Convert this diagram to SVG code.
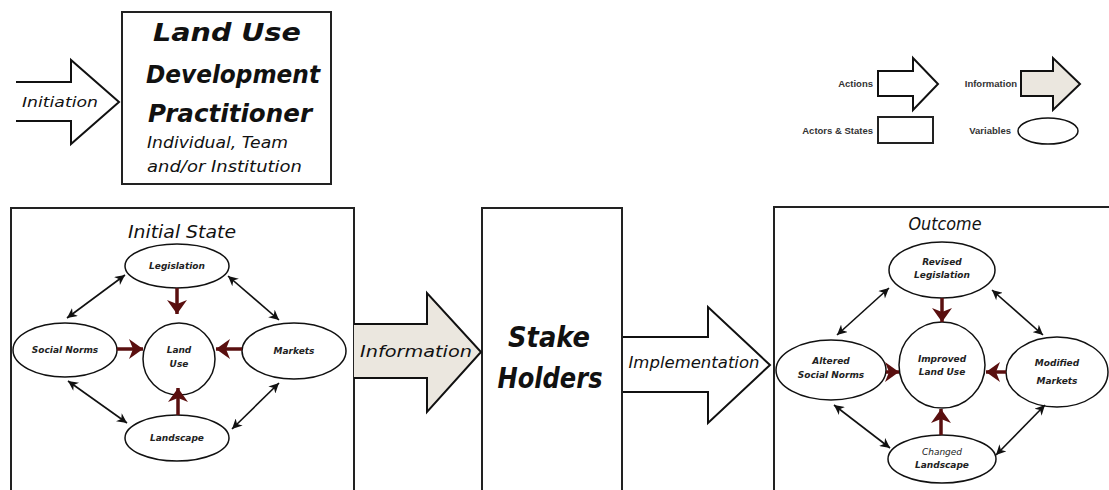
<svg xmlns="http://www.w3.org/2000/svg" width="1109" height="490" viewBox="0 0 1109 490">
<style>
.box{fill:#fff;stroke:#222;stroke-width:2}
.arw{fill:#fff;stroke:#111;stroke-width:2;stroke-linejoin:miter}
.inf{fill:#ebe7df;stroke:#111;stroke-width:2}
.var{fill:#fff;stroke:#111;stroke-width:1.5}
.big{font-family:"DejaVu Sans",sans-serif;font-weight:bold;font-style:italic;fill:#111;text-anchor:middle}
.mid{font-family:"DejaVu Sans",sans-serif;font-style:italic;fill:#111;text-anchor:middle}
.sm{font-family:"DejaVu Sans",sans-serif;font-style:italic;font-weight:bold;font-size:9px;fill:#222;text-anchor:middle}
.leg{font-family:"Liberation Sans",Arial,sans-serif;font-weight:bold;font-size:9.5px;fill:#333}
.red{stroke:#5a0f0f;stroke-width:3.5;fill:none;marker-end:url(#rh)}
.dbl{stroke:#111;stroke-width:1.6;fill:none;marker-end:url(#bh);marker-start:url(#bhs)}
</style>
<defs>
<marker id="rh" markerUnits="userSpaceOnUse" markerWidth="22" markerHeight="22" refX="14" refY="10" orient="auto">
<path d="M0,0 L14,10 L0,20 L4,10 Z" fill="#5a0f0f"/>
</marker>
<marker id="bh" markerUnits="userSpaceOnUse" markerWidth="12" markerHeight="10" refX="10" refY="5" orient="auto">
<path d="M0,0 L10,5 L0,10 L3,5 Z" fill="#111"/>
</marker>
<marker id="bhs" markerUnits="userSpaceOnUse" markerWidth="12" markerHeight="10" refX="0" refY="5" orient="auto">
<path d="M10,0 L0,5 L10,10 L7,5 Z" fill="#111"/>
</marker>
</defs>

<!-- Initiation arrow -->
<g id="initiation">
<path class="arw" d="M16,82 L71,82 L71,60 L119,102 L71,144 L71,121 L16,121"/>
<text class="mid" x="60" y="107" font-size="14" textLength="76" lengthAdjust="spacingAndGlyphs">Initiation</text>
</g>

<!-- Practitioner box -->
<g id="practitioner">
<rect class="box" x="122" y="12" width="209" height="172"/>
<text class="big" x="227" y="41" font-size="24" textLength="148" lengthAdjust="spacingAndGlyphs">Land Use</text>
<text class="big" x="233" y="83" font-size="24" textLength="174" lengthAdjust="spacingAndGlyphs">Development</text>
<text class="big" x="230" y="122" font-size="24" textLength="164" lengthAdjust="spacingAndGlyphs">Practitioner</text>
<text class="mid" x="147" y="148" font-size="15" style="text-anchor:start" textLength="141" lengthAdjust="spacingAndGlyphs">Individual, Team</text>
<text class="mid" x="147" y="172" font-size="15" style="text-anchor:start" textLength="155" lengthAdjust="spacingAndGlyphs">and/or Institution</text>
</g>

<!-- Legend -->
<g id="legend">
<text class="leg" x="873" y="87" text-anchor="end">Actions</text>
<path class="arw" d="M878,71 L913,71 L913,58 L938,84 L913,110 L913,96 L878,96 Z"/>
<text class="leg" x="1017" y="87" text-anchor="end">Information</text>
<path class="inf" d="M1021,71 L1053,71 L1053,58 L1080,84 L1053,110 L1053,96 L1021,96 Z"/>
<text class="leg" x="873" y="134" text-anchor="end">Actors &amp; States</text>
<rect class="box" x="878" y="117" width="55" height="26"/>
<text class="leg" x="1011" y="134" text-anchor="end">Variables</text>
<ellipse class="var" cx="1048" cy="131" rx="30" ry="13"/>
</g>

<!-- Initial State -->
<g id="initial-state">
<path class="box" d="M11,490 L11,208 L354,208 L354,490"/>
<text class="mid" x="182" y="238" font-size="17" textLength="108" lengthAdjust="spacingAndGlyphs">Initial State</text>
</g>
<g id="legislation"><ellipse class="var" cx="177" cy="266" rx="52" ry="22"/><text class="sm" x="177" y="269">Legislation</text></g>
<g id="land-use"><circle class="var" cx="179" cy="359" r="36"/><text class="sm" x="179" y="353">Land</text><text class="sm" x="179" y="367">Use</text></g>
<g id="social-norms"><ellipse class="var" cx="65" cy="350" rx="52" ry="27"/><text class="sm" x="65" y="353">Social Norms</text></g>
<g id="markets"><ellipse class="var" cx="294" cy="351" rx="52" ry="28"/><text class="sm" x="294" y="354">Markets</text></g>
<g id="landscape"><ellipse class="var" cx="177" cy="438" rx="52" ry="23"/><text class="sm" x="177" y="441">Landscape</text></g>

<!-- Stake Holders -->
<g id="stake-holders">
<path class="box" d="M482,490 L482,208 L622,208 L622,490"/>
<text class="big" x="549" y="347" font-size="28" textLength="82" lengthAdjust="spacingAndGlyphs">Stake</text>
<text class="big" x="550" y="388" font-size="28" textLength="105" lengthAdjust="spacingAndGlyphs">Holders</text>
</g>

<!-- Outcome -->
<g id="outcome">
<path class="box" d="M774,490 L774,207 L1109,207"/>
<text class="mid" x="945" y="230" font-size="17" textLength="73" lengthAdjust="spacingAndGlyphs">Outcome</text>
</g>
<g id="revised-legislation"><ellipse class="var" cx="942" cy="270" rx="53" ry="28"/><text class="sm" x="942" y="265">Revised</text><text class="sm" x="942" y="278">Legislation</text></g>
<g id="improved-land-use"><circle class="var" cx="942" cy="365" r="43"/><text class="sm" x="942" y="362">Improved</text><text class="sm" x="942" y="375">Land Use</text></g>
<g id="altered-social-norms"><ellipse class="var" cx="831" cy="370" rx="55" ry="30"/><text class="sm" x="831" y="364">Altered</text><text class="sm" x="831" y="378">Social Norms</text></g>
<g id="modified-markets"><ellipse class="var" cx="1057" cy="372" rx="51" ry="35"/><text class="sm" x="1057" y="366" font-size="11">Modified</text><text class="sm" x="1057" y="384" font-size="11">Markets</text></g>
<g id="changed-landscape"><ellipse class="var" cx="942" cy="459" rx="54" ry="24"/><text class="sm" x="942" y="455" style="font-weight:normal">Changed</text><text class="sm" x="942" y="468">Landscape</text></g>

<!-- Connectors -->
<g id="connectors">
<path class="inf" d="M354,324 L427,324 L427,293 L481,352 L427,412 L427,378 L354,378"/>
<text class="mid" x="416" y="357" font-size="16" textLength="112" lengthAdjust="spacingAndGlyphs">Information</text>
<path class="arw" d="M623,337 L708,337 L708,307 L770,365 L708,423 L708,392 L623,392"/>
<text class="mid" x="694" y="368" font-size="15" textLength="131" lengthAdjust="spacingAndGlyphs">Implementation</text>

<line class="red" x1="177" y1="288" x2="177" y2="314"/>
<line class="red" x1="117" y1="349" x2="143" y2="349"/>
<line class="red" x1="242" y1="349" x2="216" y2="349"/>
<line class="red" x1="178" y1="415" x2="178" y2="388"/>
<line class="dbl" x1="125" y1="275" x2="67" y2="318"/>
<line class="dbl" x1="228" y1="276" x2="279" y2="320"/>
<line class="dbl" x1="68" y1="381" x2="127" y2="423"/>
<line class="dbl" x1="279" y1="383" x2="232" y2="429"/>

<line class="red" x1="942" y1="298" x2="942" y2="322"/>
<line class="red" x1="886" y1="372" x2="899" y2="372"/>
<line class="red" x1="1006" y1="372" x2="986" y2="372"/>
<line class="red" x1="941" y1="435" x2="941" y2="409"/>
<line class="dbl" x1="889" y1="288" x2="837" y2="335"/>
<line class="dbl" x1="992" y1="290" x2="1043" y2="335"/>
<line class="dbl" x1="834" y1="405" x2="890" y2="448"/>
<line class="dbl" x1="1045" y1="405" x2="996" y2="455"/>
</g>
</svg>
